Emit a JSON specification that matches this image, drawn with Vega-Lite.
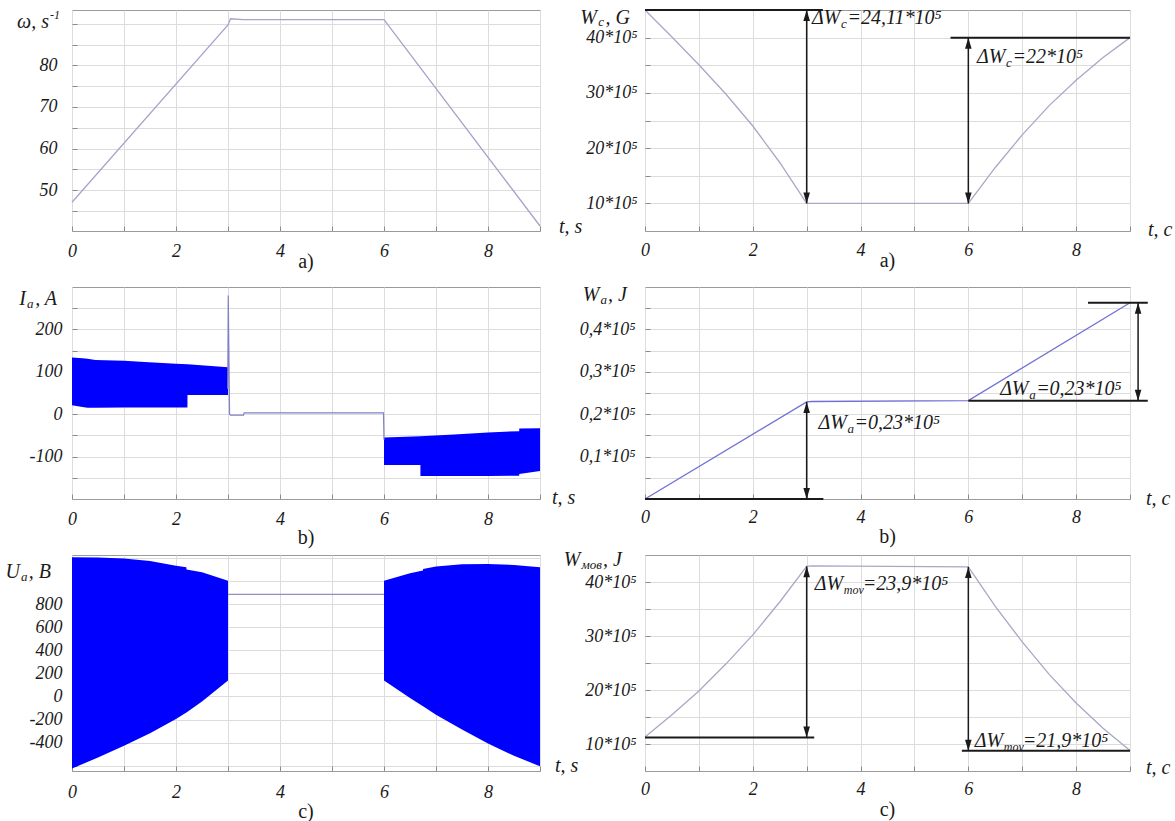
{
  "$schema": "https://vega.github.io/schema/vega-lite/v6.json",
  "background": "white",
  "padding": {"left": 5, "top": 6, "right": 2, "bottom": 2},
  "bounds": "flush",
  "align": "each",
  "columns": 2,
  "spacing": {"row": 56, "column": 105},
  "config": {
    "view": {"stroke": "#9a9a9a", "strokeWidth": 1},
    "axis": {"grid": true, "gridColor": "#dcdcdc", "gridWidth": 1, "domain": false, "ticks": true, "tickSize": -5, "tickColor": "#8a8a8a", "labelFont": "Liberation Serif", "labelFontStyle": "italic", "labelFontSize": 18, "labelColor": "#1a1a1a", "labelFlush": false, "labelOverlap": false, "labelBound": false},
    "text": {"font": "Liberation Serif", "fontStyle": "italic", "fontSize": 20, "color": "#1a1a1a"}
  },
  "concat": [
    {
      "width": 468,
      "height": 221,
      "encoding": {
        "x": {"field": "t", "type": "quantitative", "title": null, "scale": {"domain": [0, 9], "nice": false, "zero": false}, "axis": {"values": [0,1,2,3,4,5,6,7,8,9], "labelExpr": "datum.value % 2 == 0 ? '' + datum.value : ''", "labelPadding": 25.5, "labelBaseline": "middle"}},
        "y": {"field": "v", "type": "quantitative", "title": null, "scale": {"domain": [40.2, 93.3], "nice": false, "zero": false}, "axis": {"values": [45,50,55,60,65,70,75,80,85,90], "labelExpr": "datum.value % 10 == 0 && datum.value <= 80 ? '' + datum.value : ''", "labelPadding": 20}}
      },
      "layer": [
        {
          "data": {"values": [{"t": 0, "v": 47.1}, {"t": 3.0, "v": 89.7}, {"t": 3.05, "v": 91.2}, {"t": 3.3, "v": 91.0}, {"t": 6.0, "v": 91.0}, {"t": 9.0, "v": 41.4}]},
          "mark": {"type": "line", "color": "#a4a4cc", "strokeWidth": 1.3}
        },
        {
          "data": {"values": [{"t": 0, "v": 90.3, "a": "ω, s", "b": "-1"}]},
          "layer": [
            {"mark": {"type": "text", "align": "right", "baseline": "middle", "dx": -12, "dy": -7, "fontSize": 12}, "encoding": {"text": {"field": "b"}}},
            {"mark": {"type": "text", "align": "right", "baseline": "middle", "dx": -23}, "encoding": {"text": {"field": "a"}}}
          ]
        },
        {
          "data": {"values": [{"t": 9, "v": 40.2, "s": "t, s"}]},
          "mark": {"type": "text", "align": "left", "baseline": "middle", "dx": 19, "dy": -4},
          "encoding": {"text": {"field": "s"}}
        },
        {
          "data": {"values": [{"t": 4.5, "v": 40.2, "s": "a)"}]},
          "mark": {"type": "text", "align": "center", "baseline": "middle", "dy": 30.5, "fontStyle": "normal"},
          "encoding": {"text": {"field": "s"}}
        }
      ]
    },
    {
      "width": 485,
      "height": 221,
      "encoding": {
        "x": {"field": "t", "type": "quantitative", "title": null, "scale": {"domain": [0, 9], "nice": false, "zero": false}, "axis": {"values": [0,1,2,3,4,5,6,7,8,9], "labelExpr": "datum.value % 2 == 0 ? '' + datum.value : ''", "labelPadding": 24.5, "labelBaseline": "middle"}},
        "y": {"field": "v", "type": "quantitative", "title": null, "scale": {"domain": [5, 45], "nice": false, "zero": false}, "axis": {"values": [10,15,20,25,30,35,40], "labelExpr": "datum.value % 10 == 0 ? datum.value + '*10⁵' : ''", "labelPadding": 13}}
      },
      "layer": [
        {
          "data": {"values": [{"t": 0, "v": 45}, {"t": 0.5, "v": 40.1}, {"t": 1.0, "v": 35.1}, {"t": 1.5, "v": 29.8}, {"t": 2.0, "v": 24.0}, {"t": 2.5, "v": 17.4}, {"t": 3.0, "v": 10}, {"t": 6.0, "v": 10}, {"t": 6.5, "v": 16.5}, {"t": 7.0, "v": 22.4}, {"t": 7.5, "v": 27.7}, {"t": 8.0, "v": 32.3}, {"t": 8.5, "v": 36.4}, {"t": 9.0, "v": 40}]},
          "mark": {"type": "line", "color": "#a8a8c4", "strokeWidth": 1.3}
        },
        {
          "data": {"values": [{"t": 0, "t2": 3.3, "v": 45}, {"t": 5.67, "t2": 9, "v": 40}]},
          "mark": {"type": "rule", "color": "#1a1a1a", "strokeWidth": 2},
          "encoding": {"x2": {"field": "t2"}}
        },
        {
          "data": {"values": [{"t": 3, "v": 10, "v2": 45}, {"t": 6, "v": 10, "v2": 40}]},
          "mark": {"type": "rule", "color": "#1a1a1a", "strokeWidth": 1.5},
          "encoding": {"y2": {"field": "v2"}}
        },
        {
          "data": {"values": [{"t": 3, "v": 45}, {"t": 6, "v": 40}]},
          "mark": {"type": "point", "shape": "M0,-1L-0.6,1L0.6,1Z", "size": 121, "filled": true, "opacity": 1, "color": "#1a1a1a", "yOffset": 5.5}
        },
        {
          "data": {"values": [{"t": 3, "v": 10}, {"t": 6, "v": 10}]},
          "mark": {"type": "point", "shape": "M0,1L-0.6,-1L0.6,-1Z", "size": 121, "filled": true, "opacity": 1, "color": "#1a1a1a", "yOffset": -5.5}
        },
        {
          "data": {"values": [{"t": 3.1, "v": 43.6, "a": "ΔW", "b": "c", "c": "=24,11*10⁵"}, {"t": 6.16, "v": 36.5, "a": "ΔW", "b": "c", "c": "=22*10⁵"}]},
          "layer": [
            {"mark": {"type": "text", "align": "left", "baseline": "middle"}, "encoding": {"text": {"field": "a"}}},
            {"mark": {"type": "text", "align": "left", "baseline": "middle", "dx": 29, "dy": 6, "fontSize": 13}, "encoding": {"text": {"field": "b"}}},
            {"mark": {"type": "text", "align": "left", "baseline": "middle", "dx": 35.5}, "encoding": {"text": {"field": "c"}}}
          ]
        },
        {
          "data": {"values": [{"t": 0, "v": 43.5, "a": "W", "b": "c", "c": ", G"}]},
          "layer": [
            {"mark": {"type": "text", "align": "right", "baseline": "middle", "dx": -15}, "encoding": {"text": {"field": "c"}}},
            {"mark": {"type": "text", "align": "right", "baseline": "middle", "dx": -41, "dy": 4, "fontSize": 13}, "encoding": {"text": {"field": "b"}}},
            {"mark": {"type": "text", "align": "right", "baseline": "middle", "dx": -48}, "encoding": {"text": {"field": "a"}}}
          ]
        },
        {
          "data": {"values": [{"t": 9, "v": 5, "s": "t, c"}]},
          "mark": {"type": "text", "align": "left", "baseline": "middle", "dx": 18, "dy": -1},
          "encoding": {"text": {"field": "s"}}
        },
        {
          "data": {"values": [{"t": 4.5, "v": 5, "s": "a)"}]},
          "mark": {"type": "text", "align": "center", "baseline": "middle", "dy": 29.5, "fontStyle": "normal"},
          "encoding": {"text": {"field": "s"}}
        }
      ]
    },
    {
      "width": 468,
      "height": 212,
      "encoding": {
        "x": {"field": "t", "type": "quantitative", "title": null, "scale": {"domain": [0, 9], "nice": false, "zero": false}, "axis": {"values": [0,1,2,3,4,5,6,7,8,9], "labelExpr": "datum.value % 2 == 0 ? '' + datum.value : ''", "labelPadding": 25, "labelBaseline": "middle"}},
        "y": {"field": "v", "type": "quantitative", "title": null, "scale": {"domain": [-200, 300], "nice": false, "zero": false}, "axis": {"values": [-150,-100,-50,0,50,100,150,200,250], "labelExpr": "datum.value % 100 == 0 && datum.value >= -100 && datum.value <= 200 ? '' + datum.value : ''", "labelPadding": 15}}
      },
      "layer": [
        {
          "data": {"values": [
            {"seg": "A", "t": 0.0, "v": 134, "v2": 21},
            {"seg": "A", "t": 0.2, "v": 132, "v2": 17},
            {"seg": "A", "t": 0.3, "v": 131, "v2": 15},
            {"seg": "A", "t": 0.45, "v": 128, "v2": 15},
            {"seg": "A", "t": 1.0, "v": 126, "v2": 16},
            {"seg": "A", "t": 1.4, "v": 123, "v2": 16},
            {"seg": "A", "t": 2.0, "v": 119, "v2": 16},
            {"seg": "A", "t": 2.22, "v": 118, "v2": 16},
            {"seg": "A", "t": 2.221, "v": 118, "v2": 45},
            {"seg": "A", "t": 3.0, "v": 111, "v2": 45},
            {"seg": "B", "t": 6.0, "v": -55, "v2": -120},
            {"seg": "B", "t": 6.7, "v": -52, "v2": -120},
            {"seg": "B", "t": 6.701, "v": -52, "v2": -146},
            {"seg": "B", "t": 7.35, "v": -48, "v2": -146},
            {"seg": "B", "t": 8.0, "v": -43, "v2": -146},
            {"seg": "B", "t": 8.6, "v": -40, "v2": -145},
            {"seg": "B", "t": 8.601, "v": -34, "v2": -141},
            {"seg": "B", "t": 9.0, "v": -33, "v2": -134}
          ]},
          "mark": {"type": "area", "color": "#0000ff", "opacity": 1},
          "encoding": {"y2": {"field": "v2"}, "detail": {"field": "seg"}}
        },
        {
          "data": {"values": [{"t": 2.995, "v": 60}, {"t": 3.005, "v": 280}, {"t": 3.03, "v": 0}, {"t": 3.05, "v": -2}, {"t": 3.3, "v": -2}, {"t": 3.31, "v": 3}, {"t": 5.99, "v": 3}, {"t": 6.0, "v": -60}]},
          "mark": {"type": "line", "color": "#8080c8", "strokeWidth": 1.2}
        },
        {
          "data": {"values": [{"t": 0, "v": 271, "a": "I", "b": "a", "c": ", A"}]},
          "layer": [
            {"mark": {"type": "text", "align": "right", "baseline": "middle", "dx": -15}, "encoding": {"text": {"field": "c"}}},
            {"mark": {"type": "text", "align": "right", "baseline": "middle", "dx": -38.5, "dy": 5, "fontSize": 13}, "encoding": {"text": {"field": "b"}}},
            {"mark": {"type": "text", "align": "right", "baseline": "middle", "dx": -46}, "encoding": {"text": {"field": "a"}}}
          ]
        },
        {
          "data": {"values": [{"t": 9, "v": -200, "s": "t, s"}]},
          "mark": {"type": "text", "align": "left", "baseline": "middle", "dx": 12, "dy": -1},
          "encoding": {"text": {"field": "s"}}
        },
        {
          "data": {"values": [{"t": 4.5, "v": -200, "s": "b)"}]},
          "mark": {"type": "text", "align": "center", "baseline": "middle", "dy": 38.5, "fontStyle": "normal"},
          "encoding": {"text": {"field": "s"}}
        }
      ]
    },
    {
      "width": 485,
      "height": 212,
      "encoding": {
        "x": {"field": "t", "type": "quantitative", "title": null, "scale": {"domain": [0, 9], "nice": false, "zero": false}, "axis": {"values": [0,1,2,3,4,5,6,7,8,9], "labelExpr": "datum.value % 2 == 0 ? '' + datum.value : ''", "labelPadding": 23.5, "labelBaseline": "middle"}},
        "y": {"field": "v", "type": "quantitative", "title": null, "scale": {"domain": [0, 0.5], "nice": false, "zero": false}, "axis": {"values": [0.05,0.1,0.15,0.2,0.25,0.3,0.35,0.4,0.45], "labelExpr": "abs(datum.value * 10 - round(datum.value * 10)) < 0.001 ? replace(format(datum.value, '.1f'), '.', ',') + '*10⁵' : ''", "labelPadding": 15}}
      },
      "layer": [
        {
          "data": {"values": [{"t": 0, "v": 0}, {"t": 3.0, "v": 0.229}, {"t": 3.1, "v": 0.23}, {"t": 6.0, "v": 0.232}, {"t": 9.0, "v": 0.463}]},
          "mark": {"type": "line", "color": "#6f6fd6", "strokeWidth": 1.3}
        },
        {
          "data": {"values": [{"t": 0, "t2": 3.31, "v": 0}, {"t": 6.0, "t2": 9.33, "v": 0.232}, {"t": 8.22, "t2": 9.33, "v": 0.463}]},
          "mark": {"type": "rule", "color": "#1a1a1a", "strokeWidth": 2},
          "encoding": {"x2": {"field": "t2"}}
        },
        {
          "data": {"values": [{"t": 3, "v": 0, "v2": 0.229}, {"t": 9.15, "v": 0.232, "v2": 0.463}]},
          "mark": {"type": "rule", "color": "#1a1a1a", "strokeWidth": 1.5},
          "encoding": {"y2": {"field": "v2"}}
        },
        {
          "data": {"values": [{"t": 3, "v": 0.229}, {"t": 9.15, "v": 0.463}]},
          "mark": {"type": "point", "shape": "M0,-1L-0.6,1L0.6,1Z", "size": 121, "filled": true, "opacity": 1, "color": "#1a1a1a", "yOffset": 5.5}
        },
        {
          "data": {"values": [{"t": 3, "v": 0}, {"t": 9.15, "v": 0.232}]},
          "mark": {"type": "point", "shape": "M0,1L-0.6,-1L0.6,-1Z", "size": 121, "filled": true, "opacity": 1, "color": "#1a1a1a", "yOffset": -5.5}
        },
        {
          "data": {"values": [{"t": 3.22, "v": 0.18, "a": "ΔW", "b": "a", "c": "=0,23*10⁵"}, {"t": 6.59, "v": 0.26, "a": "ΔW", "b": "a", "c": "=0,23*10⁵"}]},
          "layer": [
            {"mark": {"type": "text", "align": "left", "baseline": "middle"}, "encoding": {"text": {"field": "a"}}},
            {"mark": {"type": "text", "align": "left", "baseline": "middle", "dx": 29, "dy": 6, "fontSize": 13}, "encoding": {"text": {"field": "b"}}},
            {"mark": {"type": "text", "align": "left", "baseline": "middle", "dx": 36}, "encoding": {"text": {"field": "c"}}}
          ]
        },
        {
          "data": {"values": [{"t": 0, "v": 0.482, "a": "W", "b": "a", "c": ", J"}]},
          "layer": [
            {"mark": {"type": "text", "align": "right", "baseline": "middle", "dx": -18}, "encoding": {"text": {"field": "c"}}},
            {"mark": {"type": "text", "align": "right", "baseline": "middle", "dx": -38, "dy": 5, "fontSize": 13}, "encoding": {"text": {"field": "b"}}},
            {"mark": {"type": "text", "align": "right", "baseline": "middle", "dx": -45.5}, "encoding": {"text": {"field": "a"}}}
          ]
        },
        {
          "data": {"values": [{"t": 9, "v": 0, "s": "t, c"}]},
          "mark": {"type": "text", "align": "left", "baseline": "middle", "dx": 16, "dy": 0},
          "encoding": {"text": {"field": "s"}}
        },
        {
          "data": {"values": [{"t": 4.5, "v": 0, "s": "b)"}]},
          "mark": {"type": "text", "align": "center", "baseline": "middle", "dy": 38, "fontStyle": "normal"},
          "encoding": {"text": {"field": "s"}}
        }
      ]
    },
    {
      "width": 468,
      "height": 216,
      "encoding": {
        "x": {"field": "t", "type": "quantitative", "title": null, "scale": {"domain": [0, 9], "nice": false, "zero": false}, "axis": {"values": [0,1,2,3,4,5,6,7,8,9], "labelExpr": "datum.value % 2 == 0 ? '' + datum.value : ''", "labelPadding": 26, "labelBaseline": "middle"}},
        "y": {"field": "v", "type": "quantitative", "title": null, "scale": {"domain": [-645, 1225], "nice": false, "zero": false}, "axis": {"values": [-600,-400,-200,0,200,400,600,800,1000,1200], "labelExpr": "datum.value >= -400 && datum.value <= 800 ? '' + datum.value : ''", "labelPadding": 15}}
      },
      "layer": [
        {
          "data": {"values": [
            {"seg": "A", "t": 0.0, "v": 1205, "v2": -624},
            {"seg": "A", "t": 0.5, "v": 1203, "v2": -528},
            {"seg": "A", "t": 1.0, "v": 1194, "v2": -426},
            {"seg": "A", "t": 1.5, "v": 1172, "v2": -319},
            {"seg": "A", "t": 2.0, "v": 1131, "v2": -195},
            {"seg": "A", "t": 2.2, "v": 1119, "v2": -138},
            {"seg": "A", "t": 2.201, "v": 1100, "v2": -138},
            {"seg": "A", "t": 2.5, "v": 1075, "v2": -44},
            {"seg": "A", "t": 3.0, "v": 1003, "v2": 139},
            {"seg": "B", "t": 6.0, "v": 1003, "v2": 139},
            {"seg": "B", "t": 6.5, "v": 1067, "v2": -12},
            {"seg": "B", "t": 6.75, "v": 1090, "v2": -85},
            {"seg": "B", "t": 6.751, "v": 1104, "v2": -85},
            {"seg": "B", "t": 7.0, "v": 1125, "v2": -157},
            {"seg": "B", "t": 7.5, "v": 1145, "v2": -285},
            {"seg": "B", "t": 8.0, "v": 1148, "v2": -406},
            {"seg": "B", "t": 8.5, "v": 1139, "v2": -514},
            {"seg": "B", "t": 9.0, "v": 1119, "v2": -604}
          ]},
          "mark": {"type": "area", "color": "#0000ff", "opacity": 1},
          "encoding": {"y2": {"field": "v2"}, "detail": {"field": "seg"}}
        },
        {
          "data": {"values": [{"t": 3.0, "v": 884}, {"t": 6.0, "v": 884}]},
          "mark": {"type": "line", "color": "#9090c0", "strokeWidth": 1.2}
        },
        {
          "data": {"values": [{"t": 0, "v": 1081, "a": "U", "b": "a", "c": ", B"}]},
          "layer": [
            {"mark": {"type": "text", "align": "right", "baseline": "middle", "dx": -21}, "encoding": {"text": {"field": "c"}}},
            {"mark": {"type": "text", "align": "right", "baseline": "middle", "dx": -44.5, "dy": 5, "fontSize": 13}, "encoding": {"text": {"field": "b"}}},
            {"mark": {"type": "text", "align": "right", "baseline": "middle", "dx": -52}, "encoding": {"text": {"field": "a"}}}
          ]
        },
        {
          "data": {"values": [{"t": 9, "v": -645, "s": "t, s"}]},
          "mark": {"type": "text", "align": "left", "baseline": "middle", "dx": 15, "dy": -5},
          "encoding": {"text": {"field": "s"}}
        },
        {
          "data": {"values": [{"t": 4.5, "v": -645, "s": "c)"}]},
          "mark": {"type": "text", "align": "center", "baseline": "middle", "dy": 41, "fontStyle": "normal"},
          "encoding": {"text": {"field": "s"}}
        }
      ]
    },
    {
      "width": 485,
      "height": 216,
      "encoding": {
        "x": {"field": "t", "type": "quantitative", "title": null, "scale": {"domain": [0, 9], "nice": false, "zero": false}, "axis": {"values": [0,1,2,3,4,5,6,7,8,9], "labelExpr": "datum.value % 2 == 0 ? '' + datum.value : ''", "labelPadding": 23.5, "labelBaseline": "middle"}},
        "y": {"field": "v", "type": "quantitative", "title": null, "scale": {"domain": [5, 45], "nice": false, "zero": false}, "axis": {"values": [10,15,20,25,30,35,40], "labelExpr": "datum.value % 10 == 0 ? datum.value + '*10⁵' : ''", "labelPadding": 14}}
      },
      "layer": [
        {
          "data": {"values": [{"t": 0, "v": 11.3}, {"t": 0.5, "v": 15.4}, {"t": 1.0, "v": 19.8}, {"t": 1.5, "v": 24.8}, {"t": 2.0, "v": 30.2}, {"t": 2.5, "v": 36.3}, {"t": 3.0, "v": 42.9}, {"t": 3.1, "v": 43.0}, {"t": 6.0, "v": 42.8}, {"t": 6.5, "v": 35.5}, {"t": 7.0, "v": 28.9}, {"t": 7.5, "v": 22.9}, {"t": 8.0, "v": 17.6}, {"t": 8.5, "v": 12.9}, {"t": 9.0, "v": 8.8}]},
          "mark": {"type": "line", "color": "#a8a8c4", "strokeWidth": 1.3}
        },
        {
          "data": {"values": [{"t": 0, "t2": 3.14, "v": 11.2}, {"t": 5.88, "t2": 9, "v": 8.75}]},
          "mark": {"type": "rule", "color": "#1a1a1a", "strokeWidth": 2},
          "encoding": {"x2": {"field": "t2"}}
        },
        {
          "data": {"values": [{"t": 3, "v": 11.2, "v2": 42.9}, {"t": 6, "v": 8.75, "v2": 42.8}]},
          "mark": {"type": "rule", "color": "#1a1a1a", "strokeWidth": 1.5},
          "encoding": {"y2": {"field": "v2"}}
        },
        {
          "data": {"values": [{"t": 3, "v": 42.9}, {"t": 6, "v": 42.8}]},
          "mark": {"type": "point", "shape": "M0,-1L-0.6,1L0.6,1Z", "size": 121, "filled": true, "opacity": 1, "color": "#1a1a1a", "yOffset": 5.5}
        },
        {
          "data": {"values": [{"t": 3, "v": 11.2}, {"t": 6, "v": 8.75}]},
          "mark": {"type": "point", "shape": "M0,1L-0.6,-1L0.6,-1Z", "size": 121, "filled": true, "opacity": 1, "color": "#1a1a1a", "yOffset": -5.5}
        },
        {
          "data": {"values": [{"t": 3.15, "v": 39.7, "a": "ΔW", "b": "mov", "c": "=23,9*10⁵"}, {"t": 6.12, "v": 10.6, "a": "ΔW", "b": "mov", "c": "=21,9*10⁵"}]},
          "layer": [
            {"mark": {"type": "text", "align": "left", "baseline": "middle"}, "encoding": {"text": {"field": "a"}}},
            {"mark": {"type": "text", "align": "left", "baseline": "middle", "dx": 29, "dy": 6, "fontSize": 12}, "encoding": {"text": {"field": "b"}}},
            {"mark": {"type": "text", "align": "left", "baseline": "middle", "dx": 48}, "encoding": {"text": {"field": "c"}}}
          ]
        },
        {
          "data": {"values": [{"t": 0, "v": 44.0, "a": "W", "b": "мов", "c": ", J"}]},
          "layer": [
            {"mark": {"type": "text", "align": "right", "baseline": "middle", "dx": -23}, "encoding": {"text": {"field": "c"}}},
            {"mark": {"type": "text", "align": "right", "baseline": "middle", "dx": -43, "dy": 5, "fontSize": 13}, "encoding": {"text": {"field": "b"}}},
            {"mark": {"type": "text", "align": "right", "baseline": "middle", "dx": -64.5}, "encoding": {"text": {"field": "a"}}}
          ]
        },
        {
          "data": {"values": [{"t": 9, "v": 5, "s": "t, c"}]},
          "mark": {"type": "text", "align": "left", "baseline": "middle", "dx": 16, "dy": -3},
          "encoding": {"text": {"field": "s"}}
        },
        {
          "data": {"values": [{"t": 4.5, "v": 5, "s": "c)"}]},
          "mark": {"type": "text", "align": "center", "baseline": "middle", "dy": 39, "fontStyle": "normal"},
          "encoding": {"text": {"field": "s"}}
        }
      ]
    }
  ]
}
